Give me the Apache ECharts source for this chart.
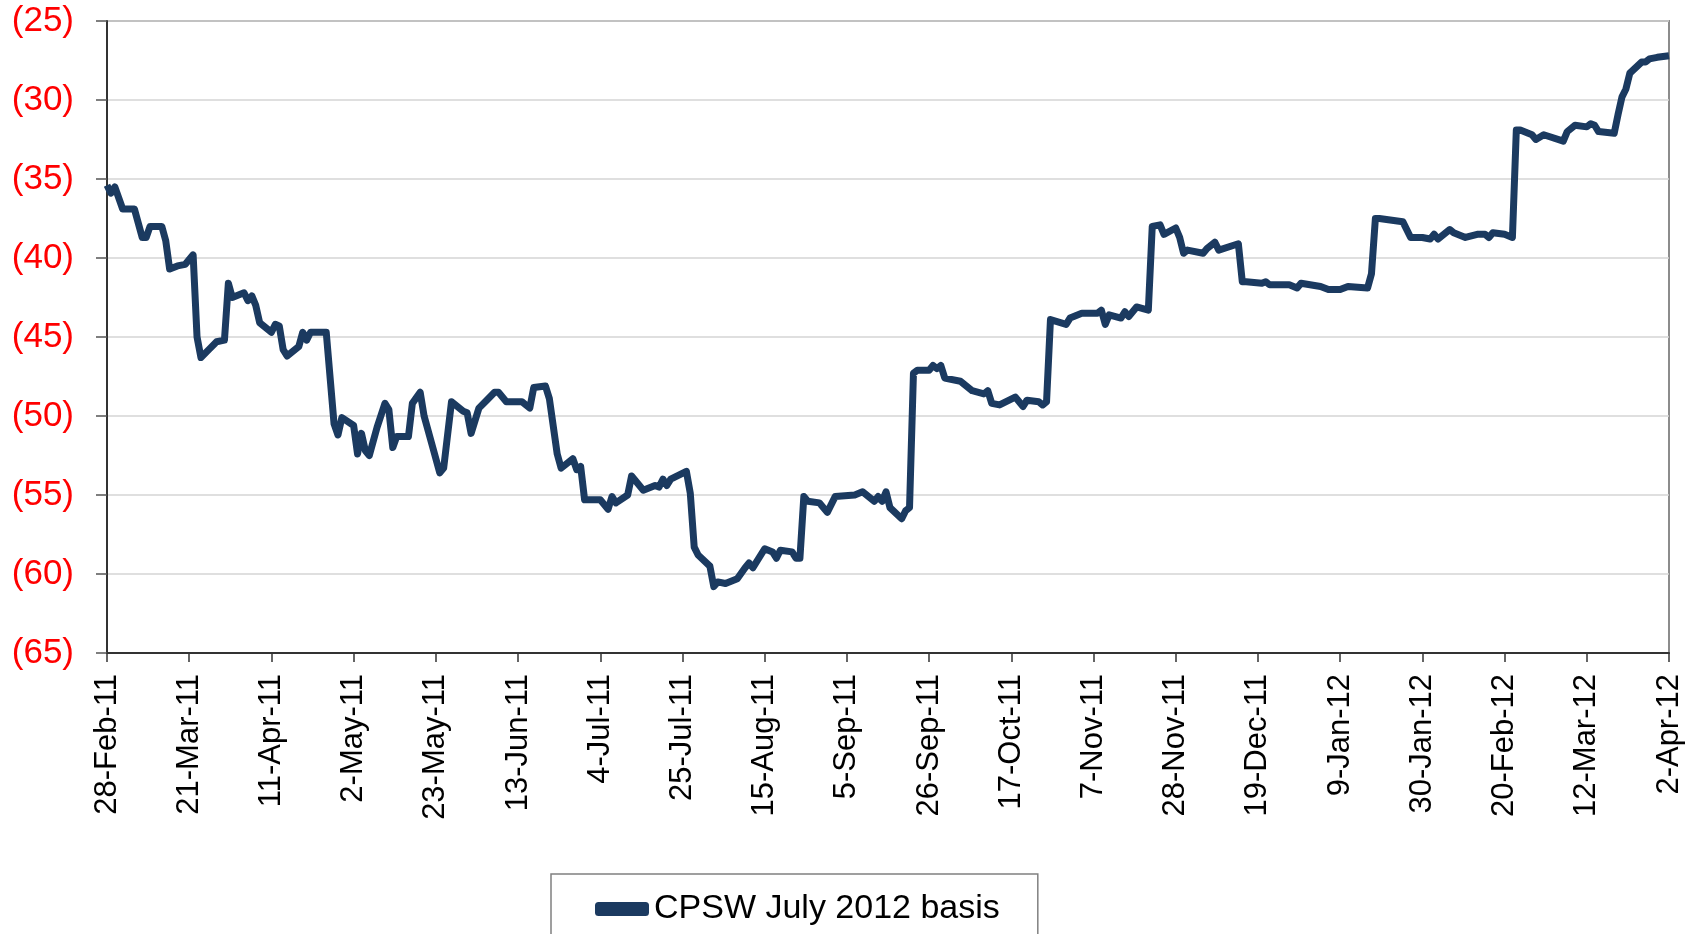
<!DOCTYPE html>
<html>
<head>
<meta charset="utf-8">
<title>CPSW July 2012 basis</title>
<script src="https://cdn.jsdelivr.net/npm/echarts@6/dist/echarts.min.js"></script>
<style>
  html, body { margin: 0; padding: 0; background: #fff; }
  #chart { width: 1704px; height: 934px; }
</style>
</head>
<body>
<div id="chart"></div>
<script>
// x values are days counted from 28-Feb-2011
const startDate = Date.UTC(2011, 1, 28);
const seriesName = 'CPSW July 2012 basis';

const dayOffsets = [
  0, 1, 2, 4, 7, 9, 10, 11, 14, 15, 16, 18, 20, 22, 23, 24, 26, 28, 30, 31,
  32, 35, 36, 37, 38, 39, 42, 43, 44, 45, 46, 49, 50, 51, 52, 56, 58, 59, 60, 63,
  64, 65, 66, 67, 69, 71, 72, 73, 74, 77, 78, 80, 81, 83, 85, 86, 88, 91, 92, 93,
  95, 97, 99, 100, 102, 106, 108, 109, 112, 113, 115, 116, 119, 120, 121, 122, 126, 128, 129, 130,
  133, 134, 137, 140, 141, 142, 143, 144, 148, 149, 150, 151, 154, 155, 156, 158, 161, 163, 164, 165,
  168, 170, 171, 172, 175, 176, 177, 178, 179, 182, 184, 186, 191, 193, 196, 197, 198, 199, 200, 203,
  204, 205, 206, 207, 210, 211, 212, 213, 214, 218, 221, 224, 225, 226, 228, 232, 234, 235, 238, 239,
  240, 241, 245, 246, 249, 253, 254, 255, 256, 259, 260, 261, 263, 266, 267, 269, 270, 273, 274, 275,
  276, 280, 281, 283, 284, 289, 290, 291, 295, 296, 297, 302, 304, 305, 310, 312, 315, 317, 322, 323,
  324, 325, 331, 333, 336, 338, 339, 340, 343, 344, 347, 350, 352, 353, 354, 357, 359, 360, 361, 364,
  365, 367, 372, 373, 375, 378, 379, 380, 381, 385, 386, 387, 388, 389, 392, 393, 394, 396, 399
];

const basis = [
  -35.4, -35.9, -35.5, -36.9, -36.9, -38.7, -38.7, -38.0, -38.0, -38.9, -40.7, -40.5, -40.4, -39.8, -45.0, -46.3, -45.8, -45.3, -45.2, -41.6,
  -42.5, -42.2, -42.7, -42.4, -43.0, -44.1, -44.7, -44.2, -44.3, -45.8, -46.2, -45.6, -44.7, -45.2, -44.7, -44.7, -50.5, -51.2, -50.1, -50.6,
  -52.4, -51.1, -52.2, -52.5, -50.7, -49.2, -49.6, -52.0, -51.3, -51.3, -49.2, -48.5, -50.0, -51.8, -53.6, -53.3, -49.1, -49.7, -49.8, -51.1,
  -49.5, -49.0, -48.5, -48.5, -49.1, -49.1, -49.5, -48.2, -48.1, -48.9, -52.4, -53.3, -52.7, -53.4, -53.2, -55.3, -55.3, -55.9, -55.1, -55.5,
  -55.0, -53.8, -54.7, -54.4, -54.5, -54.0, -54.4, -54.0, -53.5, -54.9, -58.3, -58.8, -59.5, -60.8, -60.5, -60.6, -60.3, -59.6, -59.3, -59.6,
  -58.4, -58.6, -59.0, -58.5, -58.6, -59.0, -59.0, -55.1, -55.4, -55.5, -56.1, -55.1, -55.0, -54.8, -55.4, -55.1, -55.4, -54.8, -55.8, -56.5,
  -56.0, -55.8, -47.3, -47.1, -47.1, -46.8, -47.0, -46.8, -47.6, -47.8, -48.4, -48.6, -48.4, -49.2, -49.3, -48.8, -49.4, -49.0, -49.1, -49.3,
  -49.1, -43.9, -44.2, -43.8, -43.5, -43.5, -43.3, -44.2, -43.6, -43.8, -43.4, -43.7, -43.1, -43.3, -38.0, -37.9, -38.5, -38.1, -38.7, -39.7,
  -39.5, -39.7, -39.4, -39.0, -39.5, -39.1, -41.5, -41.5, -41.6, -41.5, -41.7, -41.7, -41.9, -41.6, -41.8, -42.0, -42.0, -41.8, -41.9, -41.0,
  -37.5, -37.5, -37.7, -38.7, -38.7, -38.8, -38.5, -38.8, -38.2, -38.4, -38.7, -38.5, -38.5, -38.7, -38.4, -38.5, -38.7, -31.9, -31.9, -32.2,
  -32.5, -32.2, -32.6, -32.0, -31.6, -31.7, -31.5, -31.6, -32.0, -32.1, -30.9, -29.8, -29.3, -28.3, -27.6, -27.6, -27.4, -27.3, -27.2
];

const months = ['Jan', 'Feb', 'Mar', 'Apr', 'May', 'Jun', 'Jul', 'Aug', 'Sep', 'Oct', 'Nov', 'Dec'];

function dayLabel(d) {
  const t = new Date(startDate + d * 86400000);
  return t.getUTCDate() + '-' + months[t.getUTCMonth()] + '-' + String(t.getUTCFullYear()).slice(2);
}

const chart = echarts.init(document.getElementById('chart'));

const option = {
  backgroundColor: '#ffffff',
  animation: false,
  textStyle: { fontFamily: 'Liberation Sans, Arial, sans-serif' },
  grid: {
    left: 107,
    right: 35,
    top: 21,
    bottom: 281,
    show: true,
    borderColor: '#8c8c8c',
    borderWidth: 2
  },
  xAxis: {
    type: 'value',
    min: 0,
    max: 399,
    interval: 21,
    axisLine: { onZero: false, lineStyle: { color: '#333333', width: 2 } },
    axisTick: { length: 9, lineStyle: { color: '#333333', width: 1.5 } },
    splitLine: { show: false },
    axisLabel: {
      rotate: 90,
      margin: 21,
      fontSize: 31,
      color: '#000000',
      formatter: (v) => dayLabel(v)
    }
  },
  yAxis: {
    type: 'value',
    min: -65,
    max: -25,
    interval: 5,
    axisLine: { show: true, onZero: false, lineStyle: { color: '#333333', width: 2 } },
    axisTick: { show: true, length: 11, lineStyle: { color: '#555555', width: 1.5 } },
    splitLine: { lineStyle: { color: '#d4d4d4', width: 1.5 } },
    axisLabel: {
      margin: 33,
      fontSize: 35,
      color: '#ff0000',
      formatter: (v) => '(' + Math.abs(v) + ')'
    }
  },
  legend: {
    left: 551,
    top: 874,
    padding: [18, 38, 40, 44],
    borderColor: '#808080',
    borderWidth: 1.5,
    itemWidth: 54,
    itemHeight: 14,
    icon: 'roundRect',
    textStyle: { fontSize: 34, color: '#000000' },
    data: [seriesName]
  },
  series: [{
    name: seriesName,
    type: 'line',
    showSymbol: false,
    symbol: 'none',
    lineStyle: { color: '#1b3a60', width: 7, join: 'round' },
    itemStyle: { color: '#1b3a60' },
    data: dayOffsets.map((d, i) => [d, basis[i]])
  }]
};

chart.setOption(option);
</script>
</body>
</html>
